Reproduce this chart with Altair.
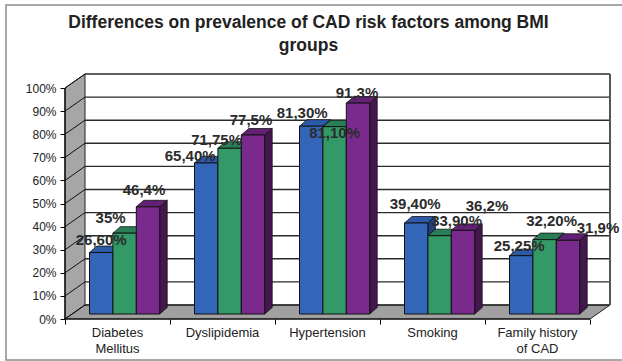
import altair as alt
import pandas as pd

# ---------------- data ----------------
categories = ["Diabetes\nMellitus", "Dyslipidemia", "Hypertension", "Smoking", "Family history\nof CAD"]
series = ["BMI group 1", "BMI group 2", "BMI group 3"]
values_g1 = [26.6, 65.4, 81.3, 39.4, 25.25]
values_g2 = [35.0, 71.75, 81.1, 33.9, 32.2]
values_g3 = [46.4, 77.5, 91.3, 36.2, 31.9]
labels_g1 = ["26,60%", "65,40%", "81,30%", "39,40%", "25,25%"]
labels_g2 = ["35%", "71,75%", "81,10%", "33,90%", "32,20%"]
labels_g3 = ["46,4%", "77,5%", "91,3%", "36,2%", "31,9%"]
y_ticks = [0, 10, 20, 30, 40, 50, 60, 70, 80, 90, 100]
title_lines = ["Differences on prevalence of CAD risk factors among BMI", "groups"]

# ---------------- layout / style (not data) ----------------
W, H = 545, 245            # plot area in px
PX = 2.31                  # px per percent
CAT_W = 105                # px per category along the front edge
FRONT_W = CAT_W * len(categories)
WALL_DX, WALL_DY = 20, 14 / PX     # oblique depth of the walls
BAR_W = 23.4
GROUP_START = 24.5
BAR_LIFT = 5 / PX
BAR_DX, BAR_DY = 7.5, 6.5 / PX
YMAX = H / PX

front_colors = ["#3366B8", "#339966", "#7A2A8C"]
top_colors = ["#2C5AA6", "#2A7E55", "#622175"]
side_colors = ["#213F80", "#1D5E40", "#45174F"]

# label nudges in px (dx, dy), per category then series, as in the original
label_nudge = [
    [(0, -13), (-14, -15), (-4, -17)],
    [(-16, -7), (-13, -8), (-2, -15)],
    [(-9, -13), (0, 6), (-1, -10)],
    [(-1, -19), (17, -15), (24, -24)],
    [(-2, -10), (7, -19), (30, -12)],
]

vals = [values_g1, values_g2, values_g3]
labs = [labels_g1, labels_g2, labels_g3]

front_rows, side_rows, top_rows, label_rows = [], [], [], []
for i, cat in enumerate(categories):
    for j, s in enumerate(series):
        v = vals[j][i]
        bid = f"{i}-{j}"
        xl = i * CAT_W + GROUP_START + j * BAR_W
        xr = xl + BAR_W
        y0 = BAR_LIFT
        y1 = y0 + v
        front_rows.append(dict(bar=bid, series=s, xl=xl, xr=xr, y0=y0, y1=y1))
        side_rows.append(dict(bar=bid, series=s, x=xr, lo=y0, hi=y1))
        side_rows.append(dict(bar=bid, series=s, x=xr + BAR_DX, lo=y0 + BAR_DY, hi=y1 + BAR_DY))
        top_rows.append(dict(bar=bid, series=s, y=y1, xa=xl, xb=xr))
        top_rows.append(dict(bar=bid, series=s, y=y1 + BAR_DY, xa=xl + BAR_DX, xb=xr + BAR_DX))
        dx, dy = label_nudge[i][j]
        label_rows.append(dict(text=labs[j][i], x=(xl + xr) / 2 + dx, y=y1 - dy / PX))

front_df = pd.DataFrame(front_rows)
side_df = pd.DataFrame(side_rows)
top_df = pd.DataFrame(top_rows)
label_df = pd.DataFrame(label_rows)
cat_df = pd.DataFrame(dict(cat=categories, x=[i * CAT_W + CAT_W / 2 for i in range(len(categories))], y=0))

xs = alt.Scale(domain=[0, W], nice=False, zero=False)
ys = alt.Scale(domain=[0, YMAX], nice=False, zero=False)

def X(f, **kw):
    return alt.X(f, scale=xs, title=None, **kw)

def Y(f, **kw):
    return alt.Y(f, scale=ys, title=None, **kw)

# outer frame (decoration)
frame = alt.Chart(pd.DataFrame({"k": [0]})).mark_rect(
    filled=False, stroke="#8c8c8c", strokeWidth=1.5
).encode(x=alt.value(-59), x2=alt.value(620), y=alt.value(-69), y2=alt.value(286))

# left wall (this layer carries the explicit axis settings)
wall_df = pd.DataFrame(dict(x=[0, WALL_DX], lo=[0, WALL_DY], hi=[100, 100 + WALL_DY]))
left_wall = alt.Chart(wall_df).mark_area(fill="#A6A6A6", stroke="#222", strokeWidth=1).encode(
    x=alt.X("x:Q", scale=xs, title=None,
            axis=alt.Axis(values=[i * CAT_W for i in range(len(categories) + 1)], labels=False, domain=False,
                          grid=False, ticks=True, tickSize=5, tickColor="#000", tickWidth=1, orient="bottom")),
    y=alt.Y("lo:Q", scale=ys, title=None,
            axis=alt.Axis(values=y_ticks, labelExpr="datum.value + '%'", domain=False, grid=False,
                          tickSize=5, tickColor="#000", tickWidth=1, labelFontSize=12, labelColor="#222",
                          labelFont="Liberation Sans", labelPadding=4, labelOverlap=False, labelFlush=False,
                          tickCount=11, orient="left")),
    y2="hi:Q",
)

# floor
floor_df = pd.DataFrame(dict(y=[0, WALL_DY], xa=[0, WALL_DX], xb=[FRONT_W, FRONT_W + WALL_DX]))
floor = alt.Chart(floor_df).mark_area(orient="horizontal", fill="#A0A0A0", stroke="#222", strokeWidth=1).encode(
    y=Y("y:Q"), x=X("xa:Q"), x2="xb:Q"
)

# back wall gridlines
grid_df = pd.DataFrame(dict(y=[t + WALL_DY for t in y_ticks], xa=WALL_DX, xb=W))
grid = alt.Chart(grid_df).mark_rule(color="#2a2a2a", strokeWidth=1.4).encode(
    y=Y("y:Q"), x=X("xa:Q"), x2="xb:Q"
)
right_edge = alt.Chart(pd.DataFrame(dict(x=[W], lo=[WALL_DY], hi=[100 + WALL_DY]))).mark_rule(
    color="#555", strokeWidth=2
).encode(x=X("x:Q"), y=Y("lo:Q"), y2="hi:Q")

# diagonal lines on the left wall
diag_rows = []
for t in y_ticks:
    diag_rows.append(dict(t=t, x=0, y=t))
    diag_rows.append(dict(t=t, x=WALL_DX, y=t + WALL_DY))
diag = alt.Chart(pd.DataFrame(diag_rows)).mark_line(color="#111", strokeWidth=1).encode(
    x=X("x:Q"), y=Y("y:Q"), detail="t:N"
)

# bars: side faces, top faces, front faces
sides = alt.Chart(side_df).mark_area(stroke="#111", strokeWidth=0.8).encode(
    x=X("x:Q"), y=Y("lo:Q"), y2="hi:Q", detail="bar:N",
    color=alt.Color("series:N", scale=alt.Scale(domain=series, range=side_colors), legend=None),
)
tops = alt.Chart(top_df).mark_area(orient="horizontal", stroke="#111", strokeWidth=0.8).encode(
    y=Y("y:Q"), x=X("xa:Q"), x2="xb:Q", detail="bar:N",
    color=alt.Color("series:N", scale=alt.Scale(domain=series, range=top_colors), legend=None),
)
fronts = alt.Chart(front_df).mark_rect(stroke="#111", strokeWidth=1).encode(
    x=X("xl:Q"), x2="xr:Q", y=Y("y0:Q"), y2="y1:Q",
    color=alt.Color("series:N", scale=alt.Scale(domain=series, range=front_colors), legend=None),
)

# front axis lines
x_line = alt.Chart(pd.DataFrame(dict(xa=[0], xb=[FRONT_W], y=[0]))).mark_rule(color="#000", strokeWidth=1.2).encode(
    x=X("xa:Q"), x2="xb:Q", y=Y("y:Q")
)
y_line = alt.Chart(pd.DataFrame(dict(x=[0], lo=[0], hi=[100]))).mark_rule(color="#000", strokeWidth=1.2).encode(
    x=X("x:Q"), y=Y("lo:Q"), y2="hi:Q"
)

cat_labels = alt.Chart(cat_df).mark_text(
    baseline="top", align="center", dy=8, fontSize=13, font="Liberation Sans", color="#222",
    lineBreak="\n", lineHeight=16,
).encode(x=X("x:Q"), y=Y("y:Q"), text="cat:N")

value_labels = alt.Chart(label_df).mark_text(
    baseline="middle", align="center", fontSize=15, fontWeight="bold", font="Liberation Sans", color="#2b2b2b",
).encode(x=X("x:Q"), y=Y("y:Q"), text="text:N")

chart = alt.layer(
    left_wall, frame, floor, grid, right_edge, diag, sides, tops, fronts, x_line, y_line, cat_labels, value_labels
).resolve_scale(color="independent").properties(
    width=W, height=H,
    autosize=alt.AutoSizeParams(type="none"),
    padding={"left": 65, "top": 74, "right": 12, "bottom": 42},
    title=alt.TitleParams(text=title_lines, anchor="middle", dx=-29, fontSize=17.5, fontWeight="bold",
                          font="Liberation Sans", color="#222", lineHeight=23, offset=-50),
    background="white",
).configure_view(strokeWidth=0).configure_axis(grid=False, labelOverlap=False)

chart.save("out.html", embed_options={"renderer": "svg", "actions": False})
